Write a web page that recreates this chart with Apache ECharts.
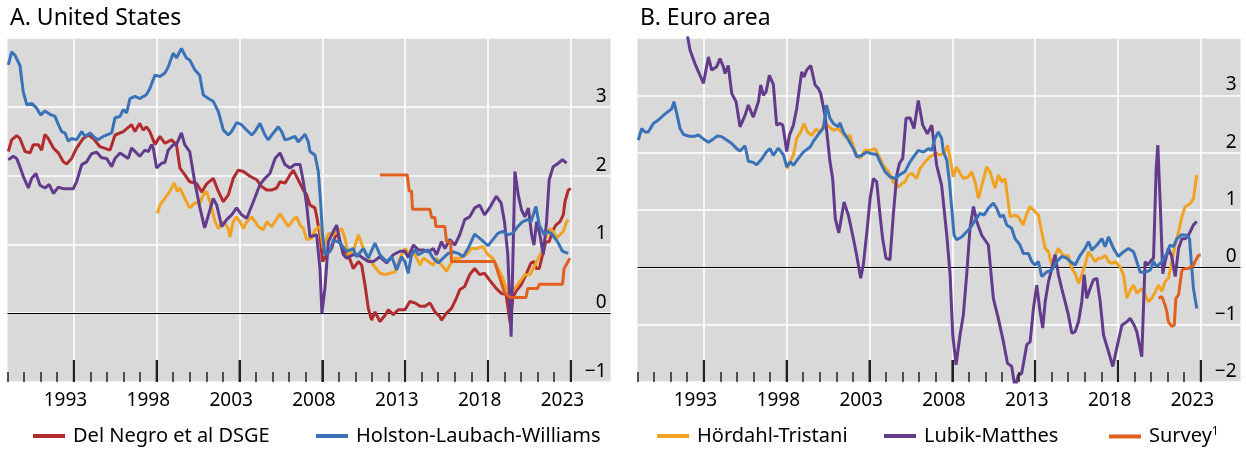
<!DOCTYPE html>
<html>
<head>
<meta charset="utf-8">
<title>Natural rate estimates</title>
<script src="https://cdn.jsdelivr.net/npm/echarts@6/dist/echarts.min.js"></script>
<style>
  html, body { margin: 0; padding: 0; background: #fff; }
  #chart { width: 1246px; height: 455px; }
</style>
</head>
<body>
<div id="chart"></div>
<script>
// x values are decimal years
const majorTicks = [1994, 1999, 2004, 2009, 2014, 2019, 2024];
const minorTicks = [1990, 1991, 1992, 1993, 1995, 1996, 1997, 1998, 2000, 2001, 2002, 2003,
  2005, 2006, 2007, 2008, 2010, 2011, 2012, 2013, 2015, 2016, 2017, 2018, 2020, 2021, 2022, 2023];
const labelYears = [1993, 1998, 2003, 2008, 2013, 2018, 2023];

// A. United States
const usDelNegro = [[1990.05,2.35],[1990.25,2.52],[1990.55,2.58],[1990.75,2.54],[1991.06,2.35],[1991.36,2.33],[1991.56,2.45],[1991.86,2.45],[1992.06,2.37],[1992.26,2.6],[1992.46,2.54],[1992.77,2.4],[1993.07,2.33],[1993.37,2.2],[1993.57,2.17],[1993.87,2.25],[1994.17,2.4],[1994.57,2.54],[1994.88,2.59],[1995.18,2.54],[1995.58,2.42],[1996.19,2.37],[1996.49,2.59],[1996.99,2.64],[1997.49,2.74],[1997.69,2.64],[1997.98,2.76],[1998.19,2.66],[1998.39,2.71],[1998.59,2.64],[1998.9,2.45],[1999.2,2.57],[1999.5,2.47],[1999.9,2.52],[2000.2,2.45],[2000.41,2.11],[2000.71,2.01],[2001.0,1.91],[2001.41,1.89],[2001.72,1.76],[2002.02,1.88],[2002.42,1.96],[2002.73,1.77],[2003.03,1.62],[2003.33,1.72],[2003.63,1.96],[2003.93,2.08],[2004.24,2.06],[2004.64,1.99],[2005.04,1.94],[2005.34,1.84],[2005.64,1.79],[2005.94,1.79],[2006.25,1.82],[2006.45,1.91],[2006.75,1.89],[2007.05,2.01],[2007.25,2.08],[2007.55,1.94],[2007.86,1.79],[2008.06,1.72],[2008.26,1.57],[2008.56,1.53],[2008.66,1.41],[2008.86,1.14],[2009.02,0.75],[2009.26,0.85],[2009.57,0.94],[2009.87,1.19],[2010.07,1.04],[2010.27,0.9],[2010.57,0.85],[2010.87,0.65],[2011.18,0.75],[2011.38,0.7],[2011.58,0.41],[2011.78,0.07],[2011.98,-0.1],[2012.18,0.02],[2012.48,-0.12],[2012.79,-0.03],[2012.99,0.05],[2013.29,-0.02],[2013.59,0.05],[2013.99,0.05],[2014.29,0.17],[2014.6,0.15],[2014.9,0.1],[2015.2,0.1],[2015.5,0.15],[2015.8,0.02],[2016.1,-0.05],[2016.2,-0.1],[2016.5,0.0],[2016.8,0.07],[2017.1,0.22],[2017.3,0.34],[2017.6,0.39],[2017.9,0.56],[2018.2,0.65],[2018.5,0.56],[2018.8,0.58],[2019.1,0.48],[2019.5,0.36],[2019.8,0.29],[2020.1,0.27],[2020.35,-0.15],[2020.5,0.22],[2020.7,0.32],[2021.0,0.41],[2021.3,0.56],[2021.6,0.73],[2021.8,0.75],[2021.9,0.65],[2022.1,0.65],[2022.3,0.85],[2022.5,1.04],[2022.7,1.04],[2022.9,1.19],[2023.1,1.28],[2023.35,1.33],[2023.55,1.43],[2023.65,1.62],[2023.85,1.79],[2024.0,1.81]];
const usHLW = [[1990.05,3.61],[1990.25,3.8],[1990.45,3.75],[1990.75,3.6],[1990.95,3.22],[1991.16,3.03],[1991.46,3.05],[1991.76,2.98],[1992.0,2.88],[1992.26,2.94],[1992.56,2.89],[1992.87,2.86],[1993.07,2.74],[1993.27,2.64],[1993.47,2.62],[1993.67,2.5],[1993.87,2.54],[1994.17,2.52],[1994.48,2.64],[1994.68,2.57],[1994.98,2.62],[1995.28,2.55],[1995.48,2.52],[1995.78,2.57],[1996.08,2.6],[1996.29,2.62],[1996.49,2.84],[1996.79,2.86],[1996.99,2.96],[1997.19,2.91],[1997.39,3.12],[1997.69,3.15],[1998.0,3.12],[1998.4,3.18],[1998.6,3.27],[1998.9,3.46],[1999.2,3.44],[1999.5,3.49],[1999.7,3.58],[2000.0,3.78],[2000.2,3.71],[2000.5,3.85],[2000.8,3.71],[2001.0,3.68],[2001.3,3.54],[2001.6,3.46],[2001.82,3.17],[2002.12,3.12],[2002.42,3.08],[2002.73,2.93],[2003.03,2.66],[2003.33,2.59],[2003.53,2.64],[2003.83,2.77],[2004.13,2.74],[2004.44,2.66],[2004.74,2.59],[2004.94,2.64],[2005.24,2.76],[2005.54,2.59],[2005.74,2.52],[2006.05,2.62],[2006.35,2.71],[2006.55,2.64],[2006.75,2.52],[2007.05,2.54],[2007.35,2.57],[2007.55,2.49],[2007.96,2.6],[2008.16,2.49],[2008.26,2.35],[2008.56,2.3],[2008.76,2.06],[2008.9,1.62],[2009.02,1.14],[2009.16,0.85],[2009.47,0.9],[2009.67,1.07],[2010.07,1.02],[2010.47,0.9],[2010.87,0.94],[2011.07,0.82],[2011.48,0.94],[2011.78,0.8],[2012.18,1.02],[2012.48,0.85],[2012.89,0.75],[2013.19,0.82],[2013.49,0.63],[2013.79,0.82],[2013.99,0.75],[2014.19,0.58],[2014.39,0.85],[2014.6,0.92],[2014.8,0.85],[2015.1,0.89],[2015.4,0.92],[2015.7,0.8],[2016.0,0.73],[2016.3,0.8],[2016.6,0.87],[2016.9,0.89],[2017.2,0.87],[2017.5,0.82],[2017.8,0.94],[2018.2,1.15],[2018.6,1.07],[2019.0,0.98],[2019.3,1.07],[2019.6,1.16],[2019.9,1.19],[2020.2,1.14],[2020.5,1.16],[2020.8,1.26],[2021.1,1.33],[2021.4,1.36],[2021.6,1.33],[2021.9,1.55],[2022.1,1.28],[2022.4,1.14],[2022.6,1.19],[2022.9,1.14],[2023.2,1.04],[2023.5,0.9],[2023.85,0.87]];
const usHT = [[1999.05,1.45],[1999.2,1.57],[1999.5,1.67],[1999.8,1.77],[2000.05,1.89],[2000.25,1.77],[2000.4,1.82],[2000.7,1.67],[2001.0,1.53],[2001.3,1.6],[2001.6,1.6],[2001.82,1.72],[2002.02,1.77],[2002.22,1.62],[2002.53,1.33],[2002.73,1.23],[2003.03,1.33],[2003.33,1.23],[2003.43,1.11],[2003.63,1.33],[2003.83,1.4],[2004.03,1.33],[2004.24,1.23],[2004.44,1.33],[2004.74,1.4],[2004.94,1.33],[2005.14,1.26],[2005.44,1.21],[2005.64,1.33],[2005.94,1.26],[2006.15,1.33],[2006.45,1.45],[2006.75,1.33],[2006.95,1.26],[2007.25,1.36],[2007.45,1.4],[2007.66,1.28],[2007.86,1.23],[2008.06,1.07],[2008.36,1.09],[2008.56,1.21],[2008.86,1.26],[2009.06,0.94],[2009.37,1.16],[2009.67,1.14],[2009.97,1.19],[2010.17,1.23],[2010.37,1.09],[2010.57,0.85],[2010.87,0.9],[2011.18,1.14],[2011.48,0.94],[2011.78,0.8],[2012.08,0.7],[2012.48,0.58],[2012.79,0.56],[2013.09,0.58],[2013.39,0.6],[2013.69,0.8],[2013.99,0.94],[2014.29,0.85],[2014.6,0.85],[2014.9,0.7],[2015.1,0.8],[2015.4,0.75],[2015.7,0.7],[2015.9,0.8],[2016.2,0.7],[2016.5,0.61],[2016.7,0.7],[2017.0,0.8],[2017.3,0.8],[2017.7,0.85],[2018.0,0.94],[2018.3,0.94],[2018.7,0.97],[2019.0,0.85],[2019.3,0.8],[2019.6,0.65],[2019.9,0.51],[2020.1,0.36],[2020.33,0.27],[2020.63,0.36],[2020.93,0.46],[2021.23,0.56],[2021.54,0.56],[2021.74,0.65],[2021.94,0.75],[2022.24,0.89],[2022.54,1.14],[2022.74,1.23],[2022.94,1.19],[2023.14,1.09],[2023.35,1.14],[2023.55,1.19],[2023.75,1.33],[2023.85,1.36]];
const usLM = [[1990.05,2.23],[1990.35,2.28],[1990.55,2.25],[1990.75,2.13],[1990.95,1.99],[1991.26,1.82],[1991.46,1.96],[1991.72,2.03],[1991.96,1.86],[1992.26,1.82],[1992.52,1.87],[1992.77,1.74],[1993.07,1.83],[1993.37,1.81],[1993.77,1.81],[1993.97,1.81],[1994.17,1.91],[1994.48,2.16],[1994.78,2.2],[1995.08,2.32],[1995.38,2.34],[1995.68,2.26],[1995.98,2.25],[1996.29,2.13],[1996.49,2.25],[1996.79,2.33],[1997.09,2.28],[1997.29,2.25],[1997.49,2.4],[1997.79,2.33],[1997.98,2.28],[1998.29,2.37],[1998.5,2.35],[1998.7,2.45],[1998.8,2.4],[1999.0,2.11],[1999.3,2.18],[1999.5,2.19],[1999.7,2.37],[2000.0,2.45],[2000.2,2.45],[2000.5,2.62],[2000.7,2.45],[2001.0,2.35],[2001.3,1.91],[2001.6,1.55],[2001.9,1.24],[2002.1,1.4],[2002.42,1.67],[2002.63,1.57],[2002.93,1.26],[2003.23,1.36],[2003.53,1.43],[2003.83,1.53],[2004.13,1.43],[2004.44,1.38],[2004.84,1.62],[2005.24,1.87],[2005.54,1.96],[2005.84,2.03],[2006.15,2.25],[2006.45,2.33],[2006.75,2.16],[2007.05,2.11],[2007.35,2.16],[2007.66,2.16],[2007.86,1.91],[2008.06,1.57],[2008.26,1.11],[2008.66,1.14],[2008.86,0.65],[2008.98,0.0],[2009.16,0.36],[2009.37,1.04],[2009.67,1.19],[2009.87,1.28],[2010.07,1.04],[2010.27,0.85],[2010.47,0.8],[2010.87,0.85],[2011.18,0.85],[2011.48,0.8],[2011.78,0.75],[2012.08,0.75],[2012.48,0.82],[2012.89,0.73],[2013.29,0.85],[2013.69,0.9],[2013.99,0.9],[2014.19,0.81],[2014.5,0.99],[2014.8,0.92],[2015.1,0.92],[2015.4,0.89],[2015.7,0.94],[2015.9,0.85],[2016.2,1.04],[2016.4,0.94],[2016.7,1.07],[2017.0,0.99],[2017.3,1.14],[2017.6,1.36],[2017.9,1.4],[2018.2,1.53],[2018.5,1.57],[2018.8,1.43],[2019.1,1.53],[2019.5,1.7],[2019.8,1.6],[2020.0,1.33],[2020.2,0.85],[2020.4,-0.34],[2020.63,2.06],[2020.83,1.72],[2021.03,1.5],[2021.23,1.4],[2021.44,1.53],[2021.64,1.14],[2021.78,0.99],[2021.94,1.33],[2022.14,1.14],[2022.34,0.85],[2022.54,1.33],[2022.7,1.94],[2022.94,2.13],[2023.25,2.18],[2023.5,2.23],[2023.75,2.18]];
const usSurvey = [[2012.48,2.01],[2014.13,2.01],[2014.25,1.78],[2014.39,1.77],[2014.45,1.51],[2015.5,1.51],[2015.6,1.39],[2015.8,1.39],[2015.86,1.26],[2016.4,1.26],[2016.5,1.04],[2016.75,1.04],[2016.8,0.75],[2019.4,0.75],[2019.6,0.6],[2020.0,0.3],[2020.35,0.23],[2021.3,0.23],[2021.4,0.36],[2022.0,0.36],[2022.1,0.42],[2023.5,0.42],[2023.6,0.65],[2023.95,0.8]];

// B. Euro area
const eaHLW = [[1990.05,2.22],[1990.25,2.42],[1990.45,2.36],[1990.65,2.36],[1990.96,2.51],[1991.26,2.57],[1991.56,2.65],[1991.86,2.72],[1992.06,2.76],[1992.2,2.89],[1992.37,2.68],[1992.57,2.42],[1992.77,2.32],[1993.07,2.29],[1993.37,2.28],[1993.67,2.31],[1993.98,2.24],[1994.28,2.18],[1994.58,2.24],[1994.82,2.29],[1995.08,2.28],[1995.38,2.22],[1995.69,2.16],[1995.99,2.07],[1996.19,2.03],[1996.49,2.12],[1996.69,1.85],[1996.99,1.83],[1997.19,1.79],[1997.5,1.89],[1997.8,2.02],[1998.0,2.07],[1998.2,1.95],[1998.5,2.08],[1998.81,1.96],[1999.01,1.75],[1999.21,1.84],[1999.41,1.78],[1999.71,1.9],[2000.01,2.01],[2000.42,2.1],[2000.62,2.2],[2000.92,2.32],[2001.22,2.43],[2001.41,2.83],[2001.62,2.6],[2001.82,2.51],[2002.12,2.45],[2002.22,2.52],[2002.43,2.36],[2002.73,2.22],[2003.03,2.07],[2003.23,1.93],[2003.53,1.95],[2003.83,2.01],[2004.14,1.98],[2004.44,1.97],[2004.64,1.84],[2004.94,1.67],[2005.24,1.58],[2005.55,1.55],[2005.85,1.62],[2006.15,1.67],[2006.45,1.84],[2006.75,1.96],[2006.95,2.04],[2007.26,2.01],[2007.56,2.07],[2007.76,2.04],[2007.96,2.25],[2008.16,2.36],[2008.36,2.25],[2008.46,2.02],[2008.67,1.87],[2008.83,1.49],[2008.97,1.03],[2009.11,0.56],[2009.27,0.48],[2009.57,0.53],[2009.87,0.62],[2010.07,0.68],[2010.38,0.82],[2010.68,0.94],[2010.92,0.91],[2011.18,1.03],[2011.48,1.12],[2011.68,1.03],[2011.89,0.88],[2012.09,0.91],[2012.29,0.74],[2012.59,0.68],[2012.79,0.5],[2013.09,0.39],[2013.29,0.24],[2013.6,0.24],[2013.8,0.1],[2014.0,0.04],[2014.2,0.1],[2014.4,-0.16],[2014.71,-0.08],[2015.01,-0.05],[2015.31,0.1],[2015.61,0.19],[2015.91,0.16],[2016.12,0.1],[2016.42,0.04],[2016.72,0.21],[2017.02,0.33],[2017.22,0.45],[2017.42,0.3],[2017.73,0.39],[2018.03,0.5],[2018.23,0.36],[2018.43,0.53],[2018.73,0.33],[2019.03,0.19],[2019.34,0.27],[2019.64,0.33],[2019.94,0.27],[2020.14,0.1],[2020.34,-0.08],[2020.64,-0.09],[2020.95,-0.05],[2021.15,0.1],[2021.35,0.01],[2021.65,0.1],[2021.95,0.24],[2022.15,0.39],[2022.36,0.36],[2022.56,0.5],[2022.86,0.57],[2023.16,0.56],[2023.32,0.5],[2023.46,-0.02],[2023.56,-0.37],[2023.76,-0.72]];
const eaHT = [[1999.01,1.72],[1999.17,1.81],[1999.41,1.96],[1999.61,2.25],[1999.85,2.36],[2000.05,2.51],[2000.26,2.36],[2000.52,2.3],[2000.78,2.41],[2001.02,2.36],[2001.32,2.51],[2001.58,2.45],[2001.82,2.39],[2002.12,2.42],[2002.22,2.39],[2002.53,2.28],[2002.83,2.3],[2003.03,2.1],[2003.23,1.96],[2003.43,1.9],[2003.73,2.04],[2004.04,2.04],[2004.34,2.07],[2004.54,1.96],[2004.84,1.78],[2005.14,1.67],[2005.44,1.49],[2005.75,1.4],[2005.95,1.46],[2006.15,1.49],[2006.35,1.61],[2006.55,1.64],[2006.85,1.55],[2007.05,1.72],[2007.36,1.84],[2007.66,1.93],[2007.86,1.96],[2008.06,1.99],[2008.26,1.96],[2008.56,2.01],[2008.71,2.13],[2008.87,1.9],[2009.07,1.58],[2009.27,1.75],[2009.47,1.64],[2009.67,1.55],[2009.97,1.58],[2010.17,1.67],[2010.38,1.49],[2010.58,1.2],[2010.78,1.43],[2011.08,1.75],[2011.28,1.67],[2011.58,1.38],[2011.78,1.61],[2011.99,1.49],[2012.19,1.55],[2012.49,0.88],[2012.79,0.91],[2012.99,0.88],[2013.29,0.74],[2013.5,0.94],[2013.7,1.06],[2014.0,0.97],[2014.2,0.91],[2014.4,0.62],[2014.61,0.33],[2014.81,0.27],[2015.01,0.04],[2015.21,0.21],[2015.41,0.33],[2015.61,0.24],[2015.81,0.19],[2016.01,0.21],[2016.22,-0.02],[2016.42,-0.11],[2016.62,-0.28],[2016.82,-0.13],[2017.02,0.04],[2017.22,0.27],[2017.42,0.19],[2017.62,0.1],[2017.83,0.16],[2018.03,0.16],[2018.23,0.21],[2018.43,0.1],[2018.63,0.07],[2018.83,0.1],[2019.13,0.01],[2019.34,-0.13],[2019.54,-0.54],[2019.74,-0.4],[2019.94,-0.31],[2020.14,-0.45],[2020.44,-0.37],[2020.64,-0.48],[2020.85,-0.6],[2021.05,-0.54],[2021.25,-0.43],[2021.45,-0.31],[2021.65,-0.42],[2021.85,-0.25],[2022.05,-0.19],[2022.25,0.1],[2022.46,0.39],[2022.66,0.62],[2022.86,0.88],[2023.06,1.06],[2023.36,1.11],[2023.56,1.2],[2023.76,1.61]];
const eaLM = [[1992.9,4.4],[1993.01,4.05],[1993.17,3.79],[1993.47,3.55],[1993.77,3.35],[1993.98,3.21],[1994.28,3.67],[1994.48,3.44],[1994.78,3.5],[1994.98,3.64],[1995.18,3.5],[1995.28,3.38],[1995.48,3.52],[1995.69,3.03],[1995.95,2.89],[1996.19,2.45],[1996.49,2.65],[1996.69,2.83],[1996.99,2.62],[1997.3,2.89],[1997.44,3.18],[1997.6,3.0],[1997.76,3.06],[1997.96,3.35],[1998.2,3.19],[1998.4,2.48],[1998.6,2.51],[1998.77,2.48],[1999.01,2.02],[1999.17,2.3],[1999.41,2.48],[1999.61,2.77],[1999.91,3.41],[2000.05,3.32],[2000.21,3.44],[2000.46,3.52],[2000.72,3.18],[2000.92,3.12],[2001.06,3.03],[2001.32,2.65],[2001.62,1.84],[2001.78,1.55],[2001.94,0.85],[2002.15,0.6],[2002.47,1.14],[2002.73,0.91],[2002.99,0.56],[2003.23,0.21],[2003.47,-0.19],[2003.63,0.04],[2003.87,0.68],[2004.04,1.2],[2004.24,1.55],[2004.44,1.49],[2004.64,0.91],[2004.8,0.5],[2005.0,0.16],[2005.24,0.13],[2005.44,0.91],[2005.65,1.61],[2005.81,1.81],[2006.01,1.9],[2006.21,2.6],[2006.45,2.61],[2006.69,2.42],[2006.95,2.91],[2007.22,2.48],[2007.5,2.33],[2007.76,2.48],[2008.06,1.78],[2008.36,1.43],[2008.67,0.56],[2008.87,-0.13],[2009.03,-1.18],[2009.23,-1.7],[2009.47,-1.18],[2009.67,-0.83],[2009.87,-0.13],[2010.07,0.68],[2010.28,1.06],[2010.48,0.8],[2010.78,0.56],[2011.18,0.39],[2011.48,-0.54],[2011.78,-0.89],[2012.09,-1.3],[2012.33,-1.67],[2012.59,-1.73],[2012.79,-2.1],[2012.99,-1.88],[2013.19,-1.85],[2013.5,-1.35],[2013.7,-1.3],[2013.9,-0.72],[2014.1,-0.31],[2014.3,-0.77],[2014.46,-1.06],[2014.61,-0.6],[2014.81,-0.25],[2015.01,-0.02],[2015.21,0.22],[2015.41,-0.13],[2015.61,-0.37],[2015.81,-0.6],[2016.01,-0.83],[2016.22,-1.15],[2016.42,-1.12],[2016.62,-0.95],[2016.82,-0.6],[2016.96,-0.13],[2017.12,-0.54],[2017.32,-0.37],[2017.52,-0.22],[2017.73,-0.19],[2017.93,-0.6],[2018.13,-1.18],[2018.43,-1.47],[2018.69,-1.73],[2018.93,-1.41],[2019.24,-1.01],[2019.54,-0.95],[2019.74,-0.89],[2019.98,-1.01],[2020.14,-1.12],[2020.44,-1.56],[2020.64,0.1],[2020.79,0.04],[2020.95,0.1],[2021.15,0.16],[2021.31,1.72],[2021.41,2.13],[2021.55,1.14],[2021.71,-0.11],[2021.85,0.1],[2022.05,0.33],[2022.25,0.19],[2022.46,-0.16],[2022.66,0.33],[2022.86,0.5],[2023.06,0.5],[2023.26,0.56],[2023.56,0.74],[2023.76,0.8]];
const eaSurvey = [[2021.45,-0.54],[2021.65,-0.51],[2021.85,-0.66],[2021.95,-0.77],[2022.05,-0.95],[2022.25,-1.03],[2022.4,-1.01],[2022.5,-0.54],[2022.66,-0.48],[2022.86,-0.05],[2023.06,-0.02],[2023.26,-0.02],[2023.36,0.01],[2023.56,0.04],[2023.66,0.1],[2023.86,0.21],[2024.0,0.21]];

const FONT = 'Noto Sans';
const colors = {
  'Del Negro et al DSGE': '#b22b2e',
  'Holston-Laubach-Williams': '#3a72b8',
  'Hördahl-Tristani': '#f0a323',
  'Lubik-Matthes': '#633b8c',
  'Survey': '#e0601f'
};

function fmtY(v) {
  return v < 0 ? '\u2212' + Math.abs(v) : String(v);
}

function tickAxis(g, values, len, width) {
  return {
    gridIndex: g, type: 'value', min: 1990, max: 2026.4, position: 'bottom', z: 5,
    axisLine: { show: false, onZero: false },
    axisTick: { show: true, inside: true, length: len, customValues: values,
      lineStyle: { color: '#222', width: width } },
    splitLine: { show: false },
    axisLabel: { show: false }
  };
}

function xAxes(g) {
  return [
    {
      // year labels only
      gridIndex: g, type: 'value', min: 1990, max: 2026.4, position: 'bottom',
      axisLine: { show: false, onZero: false },
      axisTick: { show: false },
      splitLine: { show: false },
      axisLabel: { customValues: labelYears.map(y => y + 0.5),
        formatter: v => String(Math.floor(v)),
        color: '#000', fontSize: 19, fontFamily: FONT, margin: 9 }
    },
    tickAxis(g, minorTicks, 10, 1.5),
    tickAxis(g, majorTicks, 22, 2)
  ];
}

function yAxis(g, min) {
  return {
    gridIndex: g, type: 'value', min: min, max: 4, interval: 1, position: 'right',
    axisLine: { show: false },
    axisTick: { show: false },
    splitLine: { show: true, lineStyle: { color: '#fff', width: 1.5 } },
    axisLabel: { inside: true, margin: 4, verticalAlign: 'bottom', showMaxLabel: false,
      formatter: fmtY, color: '#000', fontSize: 19, fontFamily: FONT, padding: [0, 0, 1, 0] }
  };
}

// empty helper series carrying the white vertical grid lines and the zero line
function guides(xi, yi) {
  const d = majorTicks.map(t => ({ xAxis: t, lineStyle: { color: '#fff', width: 1.5 } }));
  d.push({ yAxis: 0, lineStyle: { color: '#000', width: 1.2 } });
  return {
    type: 'line', xAxisIndex: xi, yAxisIndex: yi, data: [], z: 1, silent: true,
    markLine: { silent: true, symbol: 'none', label: { show: false }, z: 1,
      lineStyle: { type: 'solid' }, data: d }
  };
}

function line(name, data, xi, yi) {
  return {
    name: name, type: 'line', data: data, xAxisIndex: xi, yAxisIndex: yi,
    showSymbol: false, symbol: 'none', clip: true, z: 3,
    lineStyle: { width: 3, color: colors[name] },
    itemStyle: { color: colors[name] },
    emphasis: { disabled: true }
  };
}

// long 5-year ticks rising from the bottom edge of a panel
function majorTickMarks(xi, yi, yMin) {
  return {
    type: 'scatter', xAxisIndex: xi, yAxisIndex: yi, silent: true, clip: false, z: 10,
    symbol: 'rect', symbolSize: [2, 22], symbolOffset: [0, -11],
    itemStyle: { color: '#222' }, emphasis: { disabled: true },
    data: majorTicks.map(t => [t, yMin])
  };
}

const legendPos = [
  ['Del Negro et al DSGE', 33],
  ['Holston-Laubach-Williams', 316],
  ['Hördahl-Tristani', 657],
  ['Lubik-Matthes', 884],
  ['Survey', 1109]
];

const chart = echarts.init(document.getElementById('chart'));
chart.setOption({
  animation: false,
  title: [
    { text: 'A. United States', left: 5, top: 2,
      textStyle: { fontSize: 23, fontWeight: 'normal', color: '#000', fontFamily: FONT } },
    { text: 'B. Euro area', left: 635, top: 2,
      textStyle: { fontSize: 23, fontWeight: 'normal', color: '#000', fontFamily: FONT } }
  ],
  grid: [
    { left: 7.5, top: 38, width: 603, height: 344, show: true, backgroundColor: '#d9d9d9', borderWidth: 0 },
    { left: 637.5, top: 38, width: 603, height: 344, show: true, backgroundColor: '#d9d9d9', borderWidth: 0 }
  ],
  xAxis: xAxes(0).concat(xAxes(1)),
  yAxis: [yAxis(0, -1), yAxis(1, -2)],
  legend: legendPos.map(p => ({
    data: [p[0]], left: p[1], top: 426, padding: 0, icon: 'rect', itemWidth: 32, itemHeight: 4,
    selectedMode: false,
    formatter: n => n === 'Survey' ? 'Survey{sup|1}' : n,
    textStyle: { fontSize: 20, color: '#000', fontFamily: FONT, padding: [0, 0, 0, 3],
      rich: { sup: { fontSize: 12, verticalAlign: 'top', padding: [0, 0, 9, 0], fontFamily: FONT, color: '#000' } } }
  })),
  series: [
    guides(0, 0),
    line('Del Negro et al DSGE', usDelNegro, 0, 0),
    line('Hördahl-Tristani', usHT, 0, 0),
    line('Lubik-Matthes', usLM, 0, 0),
    line('Holston-Laubach-Williams', usHLW, 0, 0),
    line('Survey', usSurvey, 0, 0),
    majorTickMarks(0, 0, -1),
    guides(3, 1),
    line('Hördahl-Tristani', eaHT, 3, 1),
    line('Lubik-Matthes', eaLM, 3, 1),
    line('Holston-Laubach-Williams', eaHLW, 3, 1),
    line('Survey', eaSurvey, 3, 1),
    majorTickMarks(3, 1, -2)
  ]
});
</script>
</body>
</html>
